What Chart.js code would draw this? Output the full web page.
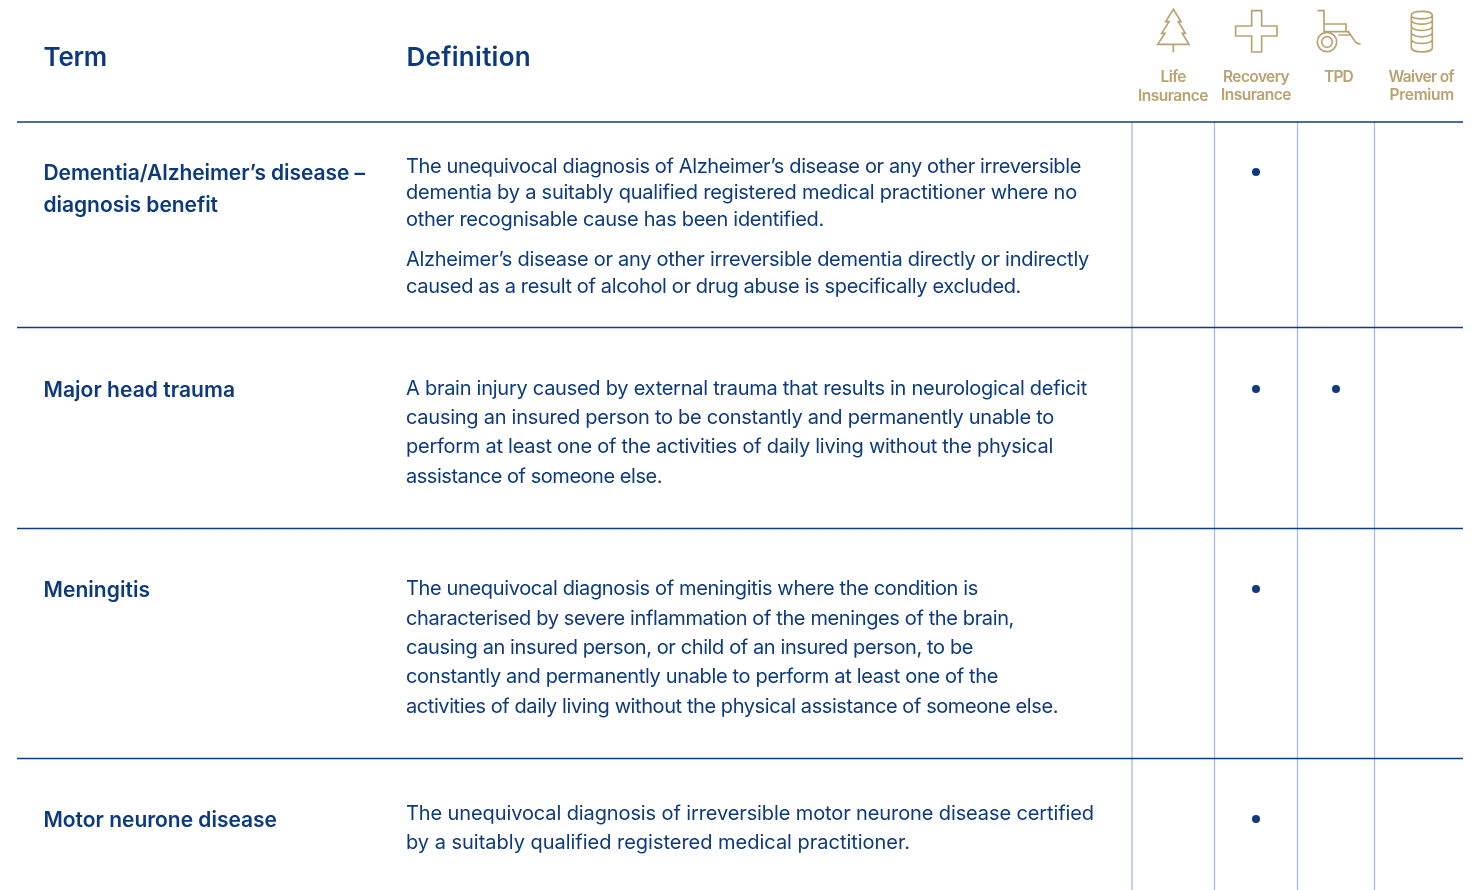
<!DOCTYPE html>
<html><head><meta charset="utf-8">
<style>
html,body{margin:0;padding:0;background:#fff;width:1475px;height:890px;overflow:hidden}
#wrap{position:absolute;left:0;top:0;width:1475px;height:890px}
canvas{position:absolute;left:0;top:0}
.t{position:absolute;white-space:pre;line-height:30px;height:30px;font-family:Inter,sans-serif}
svg{position:absolute;left:1125px;top:0}
</style>
<script src="https://cdn.jsdelivr.net/npm/chart.js@4/dist/chart.umd.min.js"></script>
</head><body><div id="wrap"><canvas id="c" width="1475" height="890"></canvas>
<svg width="350" height="130" viewBox="0 0 1050 390" fill="none" stroke="#b8a272" stroke-width="5">
<path d="M145 28L122 65L132 65L110 100L120 100L98 133L192 133L172 100L181 100L160 65L168 65Z M145 133V157"/>
<path d="M380 32H410V78H456V108H410V156H380V108H332V78H380Z"/>
<path d="M577 32H597V95H670L693 128Q697 132 707 132 M597 72H663V95 M640 105H675"/>
<circle cx="606" cy="126" r="29"/><circle cx="606" cy="126" r="16"/>
<path d="M859 46C859 30 922 30 922 46V143C922 160 859 160 859 143Z M859 46C859 60 922 60 922 46 M859 62C870 76 911 76 922 62 M859 81C870 95 911 95 922 81 M859 100C870 114 911 114 922 100 M859 120C870 134 911 134 922 120"/>
</svg></div>
<script>
const coverColumns = ['Life Insurance','Recovery Insurance','TPD','Waiver of Premium'];
const terms = ['Dementia/Alzheimer’s disease','Major head trauma','Meningitis','Motor neurone disease'];
const recoveryCover = ['Dementia/Alzheimer’s disease','Major head trauma','Meningitis','Motor neurone disease'];
const tpdCover = ['Major head trauma'];

const columnCentres = [1173,1256,1336,1421];
const rowCentres = [172,389,589,819];
const columnRules = [1132,1214.5,1297.5,1374.5];
const rowRules = [121.5,327,528,758];

const INK='#0d3a7d', GOLD='#b8a272';
// [text, left, vertical centre, right edge, size, weight, colour]
const H=[26,600,INK], B=[20,400,INK], S=[21,600,INK];
const headerLines=[['Term',43.5,57,107,...H],['Definition',406.5,57,531,...H]];
const termLines=[
 ['Dementia/Alzheimer’s disease –',43.5,173,365,...S],['diagnosis benefit',43.5,205,218,...S],
 ['Major head trauma',43.5,389.5,235,...S],['Meningitis',43.5,590,150,...S],['Motor neurone disease',43.5,820,277,...S]];
const defLines=[
 ['The unequivocal diagnosis of Alzheimer’s disease or any other irreversible',406,166,1081],
 ['dementia by a suitably qualified registered medical practitioner where no',406,192,1077],
 ['other recognisable cause has been identified.',406,219,824],
 ['Alzheimer’s disease or any other irreversible dementia directly or indirectly',406,259,1089],
 ['caused as a result of alcohol or drug abuse is specifically excluded.',406,286,1021],
 ['A brain injury caused by external trauma that results in neurological deficit',406,388,1087],
 ['causing an insured person to be constantly and permanently unable to',406,417,1054],
 ['perform at least one of the activities of daily living without the physical',406,446,1053],
 ['assistance of someone else.',406,476,662],
 ['The unequivocal diagnosis of meningitis where the condition is',406,588,978],
 ['characterised by severe inflammation of the meninges of the brain,',406,618,1014],
 ['causing an insured person, or child of an insured person, to be',406,647,973],
 ['constantly and permanently unable to perform at least one of the',406,676,998],
 ['activities of daily living without the physical assistance of someone else.',406,706,1058],
 ['The unequivocal diagnosis of irreversible motor neurone disease certified',406,813,1094],
 ['by a suitably qualified registered medical practitioner.',406,842,910]
].map(l=>[...l,...B]);
const L=[15.5,600,GOLD];
const columnLabelLines=[
 ['Life',1160.5,77,1186,...L],['Insurance',1138,96,1208,...L],
 ['Recovery',1223,77,1289,...L],['Insurance',1221,95,1291,...L],
 ['TPD',1324,77,1353,...L],
 ['Waiver of',1388.5,77,1454,...L],['Premium',1389.5,95,1454,...L]];

const wrap=document.getElementById('wrap');
[...headerLines,...termLines,...defLines,...columnLabelLines].forEach(([txt,x,y,r,size,w,col])=>{
  const s=document.createElement('span');
  s.className='t';s.textContent=txt;
  s.style.cssText=`left:${x}px;top:${y-15}px;font-size:${size}px;font-weight:${w};color:${col}`;
  wrap.appendChild(s);
  const m=s.getBoundingClientRect().width;
  s.style.letterSpacing=((r-x-m)/txt.length).toFixed(3)+'px';
});

class PlacedCategoryScale extends Chart.CategoryScale{
  static id='placedCategory';
  getPixelForValue(v){
    const i=typeof v==='number'?Math.round(v):this.getLabels().indexOf(v);
    return this.options.centres[i];
  }
}
Chart.register(PlacedCategoryScale);

const rules={id:'rules',beforeDatasetsDraw(ch){
  const c=ch.ctx;c.save();
  c.strokeStyle='#a8bbd8';c.lineWidth=1.3;
  columnRules.forEach(x=>{c.beginPath();c.moveTo(x,122);c.lineTo(x,890);c.stroke();});
  c.strokeStyle='#0f3c7c';c.lineWidth=1.3;
  rowRules.forEach(y=>{c.beginPath();c.moveTo(17,y+.5);c.lineTo(1463,y+.5);c.stroke();});
  c.restore();
}};

new Chart(document.getElementById('c'),{
  type:'scatter',
  data:{datasets:[
    {label:'Recovery Insurance',data:recoveryCover.map(t=>({x:coverColumns[1],y:t}))},
    {label:'TPD',data:tpdCover.map(t=>({x:coverColumns[2],y:t}))}
  ]},
  options:{
    responsive:false,animation:false,
    layout:{padding:0},
    elements:{point:{radius:4,backgroundColor:'#0d3a7d',borderWidth:0}},
    plugins:{legend:{display:false},title:{display:false},tooltip:{enabled:false}},
    scales:{
      x:{type:'placedCategory',labels:coverColumns,centres:columnCentres,display:false},
      y:{type:'placedCategory',labels:terms,centres:rowCentres,display:false}
    }
  },
  plugins:[rules]
});
</script></body></html>
